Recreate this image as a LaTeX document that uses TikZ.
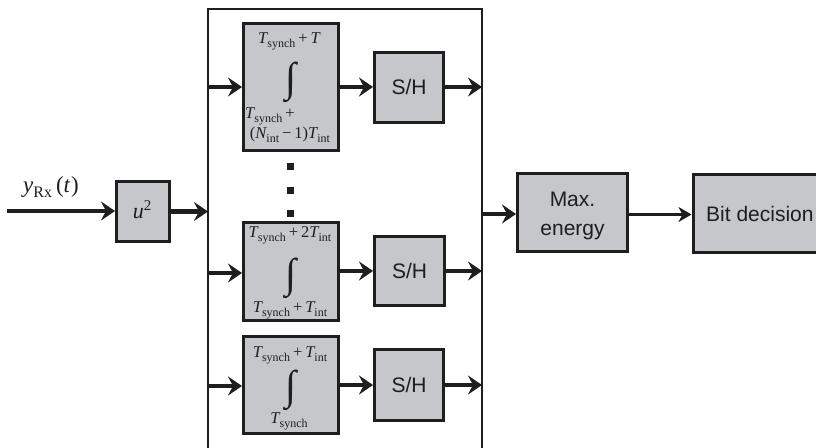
\documentclass[tikz,border=0pt]{standalone}
\usepackage{fontspec}
\usepackage{graphicx}
\newfontfamily\sansf{Liberation Sans}
\newfontfamily\serf{Liberation Serif}
\usetikzlibrary{arrows.meta}
\definecolor{boxgray}{RGB}{198,199,203}
\definecolor{ink}{RGB}{30,30,30}
\tikzset{
  blk/.style={draw=ink, fill=boxgray, line width=3pt, inner sep=0pt, anchor=center},
  frame/.style={draw=ink, line width=2pt},
  bigarrow/.style={draw=ink, line width=4.5pt, -{Stealth[length=14pt,width=19pt,inset=5pt]}},
  thinarrow/.style={draw=ink, line width=2.4pt, -{Stealth[length=13pt,width=15pt,inset=4pt]}},
  mlab/.style={inner sep=0pt, anchor=base, text=ink, font=\serf\fontsize{16.5}{19}\selectfont},
  intsym/.style={inner sep=0pt, anchor=center, text=ink},
  slab/.style={inner sep=0pt, font=\sansf\fontsize{21}{25}\selectfont, text=ink},
  dotsq/.style={fill=ink, minimum size=7pt, inner sep=0pt}
}
% italic letter, lowered upright subscript, operator with medium spaces
\newcommand{\vi}[1]{{\itshape #1}}
\newcommand{\lo}[1]{\raisebox{-4.5pt}{\fontsize{12}{14}\selectfont #1}}
\newcommand{\op}[1]{\hspace{3pt}#1\hspace{3pt}}
\newcommand{\Tsy}{\vi{T}\lo{synch}}
\newcommand{\Tin}{\vi{T}\lo{int}}
\newcommand{\bigint}{\resizebox{11pt}{29.5pt}{\serf ∫}}
\begin{document}
\begin{tikzpicture}[x=1pt,y=-1pt]
\clip (0,0) rectangle (816,447);
\fill[white] (0,0) rectangle (816,447);
% frame
\coordinate (fbl) at (208,450);
\coordinate (ftl) at (208,9);
\coordinate (ftr) at (482,9);
\coordinate (fbr) at (482,450);
\draw[frame] (fbl) -- (ftl) -- (ftr) -- (fbr);
% input and squarer
\coordinate (in) at (7,211);
\node[blk, minimum width=53pt, minimum height=60pt] (sq) at (143,211.5) {};
\node[inner sep=0pt, anchor=base, text=ink, font=\serf\fontsize{22}{26}\selectfont] (sqlab) at (142,218) {\vi{u}\raisebox{8pt}{\fontsize{15}{17}\selectfont 2}};
\node[inner sep=0pt, anchor=base, text=ink, font=\serf\fontsize{23}{27}\selectfont] (ylab) at (51,192) {\vi{y}\raisebox{-5pt}{\fontsize{16}{18}\selectfont Rx}\hspace{4pt}(\vi{t}\hspace{1pt})};
% integrators
\node[blk, minimum width=95pt, minimum height=127pt] (i1) at (291,87) {};
\node[blk, minimum width=95pt, minimum height=98pt] (i2) at (291,271.5) {};
\node[blk, minimum width=95pt, minimum height=97pt] (i3) at (291,385) {};
% integrator labels
\node[mlab] (i1t) at (289,43) {\Tsy\op{+}\vi{T}};
\node[intsym] (i1s) at (291,82) {\bigint};
\node[mlab, anchor=base west] (i1b1) at (245,118) {\Tsy\hspace{3pt}+};
\node[mlab] (i1b2) at (290,138) {(\vi{N}\lo{int}\op{−}1)\Tin};
\node[mlab] (i2t) at (290,237) {\Tsy\op{+}2\Tin};
\node[intsym] (i2s) at (291,278.5) {\bigint};
\node[mlab] (i2b) at (290,312) {\Tsy\op{+}\Tin};
\node[mlab] (i3t) at (290,357) {\Tsy\op{+}\Tin};
\node[intsym] (i3s) at (291,390) {\bigint};
\node[mlab] (i3b) at (289,423) {\Tsy};
% dots
\node[dotsq] (d1) at (290.5,166) {};
\node[dotsq] (d2) at (290.5,190) {};
\node[dotsq] (d3) at (290.5,213.5) {};
% S/H blocks
\node[blk, minimum width=69pt, minimum height=70pt] (s1) at (409,87) {};
\node[blk, minimum width=70pt, minimum height=69pt] (s2) at (409.5,271) {};
\node[blk, minimum width=69pt, minimum height=71pt] (s3) at (409,385) {};
\node[slab] at (s1) {S/H};
\node[slab] at (s2) {S/H};
\node[slab] at (s3) {S/H};
% Max energy and bit decision
\node[blk, minimum width=110pt, minimum height=78pt] (mx) at (572.5,212.5) {};
\node[slab, anchor=base] (mx1) at (572.5,206) {Max.};
\node[slab, anchor=base] (mx2) at (572.5,235) {energy};
\node[blk, minimum width=130pt, minimum height=78pt] (bd) at (758,213.5) {};
\node[slab, anchor=base west] (bdl) at (706,221) {Bit decision};
% connectors
\draw[bigarrow] (in) -- (sq.west |- in);
\draw[bigarrow] (sq.east) -- (sq.east -| ftl);
\draw[bigarrow] (i1.west -| ftl) -- (i1.west);
\draw[bigarrow] ([yshift=-1.5pt]i2.west -| ftl) -- ([yshift=-1.5pt]i2.west);
\draw[bigarrow] ([yshift=-1pt]i3.west -| ftl) -- ([yshift=-1pt]i3.west);
\draw[bigarrow] (i1.east) -- (s1.west);
\draw[bigarrow] (i2.east |- s2.west) -- (s2.west);
\draw[bigarrow] (i3.east |- s3.west) -- (s3.west);
\draw[bigarrow] (s1.east) -- (s1.east -| ftr);
\draw[bigarrow] (s2.east) -- (s2.east -| ftr);
\draw[bigarrow] (s3.east) -- (s3.east -| ftr);
\draw[bigarrow] ([yshift=-1.5pt]mx.west -| ftr) -- ([yshift=-1.5pt]mx.west);
\draw[thinarrow] ([yshift=-2pt]mx.east) -- ([yshift=-2pt]mx.east -| bd.west);
\end{tikzpicture}
\end{document}
